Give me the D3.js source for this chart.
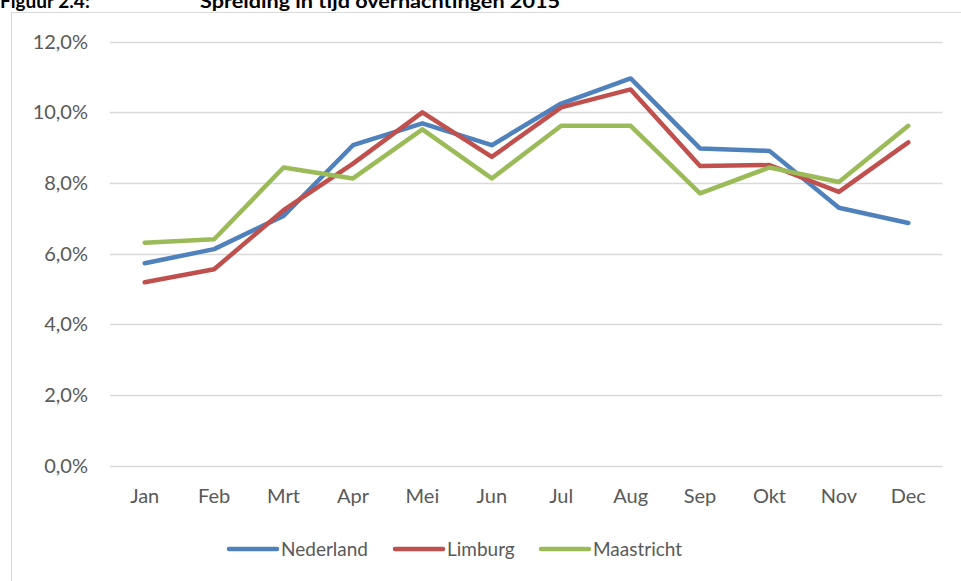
<!DOCTYPE html>
<html>
<head>
<meta charset="utf-8">
<script src="https://cdn.jsdelivr.net/npm/d3@7"></script>
<style>
  html, body { margin: 0; padding: 0; background: #fff; }
  svg { display: block; }
  text { font-family: Lato, "Open Sans", sans-serif; }
</style>
</head>
<body>
<svg id="chart" width="961" height="581"></svg>
<script>
const months = ["Jan","Feb","Mrt","Apr","Mei","Jun","Jul","Aug","Sep","Okt","Nov","Dec"];
const nederland  = [5.73, 6.13, 7.07, 9.07, 9.69, 9.07, 10.25, 10.96, 8.98, 8.91, 7.30, 6.87];
const limburg    = [5.19, 5.56, 7.23, 8.55, 10.0, 8.74, 10.14, 10.65, 8.48, 8.51, 7.75, 9.15];
const maastricht = [6.31, 6.41, 8.44, 8.13, 9.52, 8.13, 9.62, 9.62, 7.71, 8.44, 8.03, 9.62];
const seriesNames = ["Nederland", "Limburg", "Maastricht"];
const seriesColors = ["#4F81BD", "#C0504D", "#9BBB59"];
const yTicks = [0, 2, 4, 6, 8, 10, 12];
const titleLabel = "Figuur 2.4:";
const titleText = "Spreiding in tijd overnachtingen 2015";

const seriesData = [nederland, limburg, maastricht];

const svg = d3.select("#chart");

// chart border
svg.append("rect")
  .attr("x", 11.5).attr("y", 12.5)
  .attr("width", 960).attr("height", 580)
  .attr("fill", "#fff").attr("stroke", "#d9d9d9").attr("stroke-width", 1);

// title (partly above the page edge, as in the reference)
svg.append("text").attr("x", 0).attr("y", 8)
  .attr("font-weight", "bold").attr("font-size", 19).attr("fill", "#000")
  .text(titleLabel);
svg.append("text").attr("x", 200).attr("y", 8)
  .attr("font-weight", "bold").attr("font-size", 19).attr("fill", "#000")
  .attr("textLength", 360).attr("lengthAdjust", "spacingAndGlyphs")
  .text(titleText);

const plotLeft = 110, plotRight = 943, plotTop = 41.7, plotBottom = 465.7;

const x = d3.scaleBand().domain(months).range([plotLeft, plotRight]);
const y = d3.scaleLinear().domain([0, 12]).range([plotBottom, plotTop]);

// gridlines
svg.append("g").selectAll("line").data(yTicks).join("line")
  .attr("x1", plotLeft).attr("x2", plotRight - 0.7)
  .attr("y1", d => Math.round(y(d)) + 0.5).attr("y2", d => Math.round(y(d)) + 0.5)
  .attr("stroke", "#d9d9d9").attr("stroke-width", 1.3);

// y axis labels
const yAxis = d3.axisLeft(y).tickValues(yTicks)
  .tickFormat(d => d3.format(".1f")(d).replace(".", ",") + "%")
  .tickSize(0).tickPadding(22);
const gy = svg.append("g").attr("transform", `translate(${plotLeft},0)`).call(yAxis);
gy.select(".domain").remove();
gy.selectAll("text").attr("font-size", 20).attr("fill", "#595959")
  .attr("font-family", "Lato, 'Open Sans', sans-serif");

// x axis labels
const xAxis = d3.axisBottom(x).tickSize(0).tickPadding(23);
const gx = svg.append("g").attr("transform", `translate(0,${plotBottom})`).call(xAxis);
gx.select(".domain").remove();
gx.selectAll("text").attr("font-size", 20).attr("fill", "#595959")
  .attr("font-family", "Lato, 'Open Sans', sans-serif");

// lines
const line = d3.line()
  .x((d, i) => x(months[i]) + x.bandwidth() / 2)
  .y(d => y(d));

svg.append("g").selectAll("path").data(seriesData).join("path")
  .attr("d", d => line(d))
  .attr("fill", "none")
  .attr("stroke", (d, i) => seriesColors[i])
  .attr("stroke-width", 4.5)
  .attr("stroke-linecap", "round")
  .attr("stroke-linejoin", "round");

// legend
const legendX = [229, 395, 541];
const legendY = 549;
const lg = svg.append("g").selectAll("g").data(seriesNames).join("g")
  .attr("transform", (d, i) => `translate(${legendX[i]},${legendY})`);
lg.append("line").attr("x1", 0).attr("x2", 48).attr("y1", 0).attr("y2", 0)
  .attr("stroke", (d, i) => seriesColors[i]).attr("stroke-width", 4.5)
  .attr("stroke-linecap", "round");
lg.append("text").attr("x", 52).attr("y", 0).attr("dy", "0.35em")
  .attr("font-size", 19).attr("fill", "#595959").text(d => d);
</script>
</body>
</html>
